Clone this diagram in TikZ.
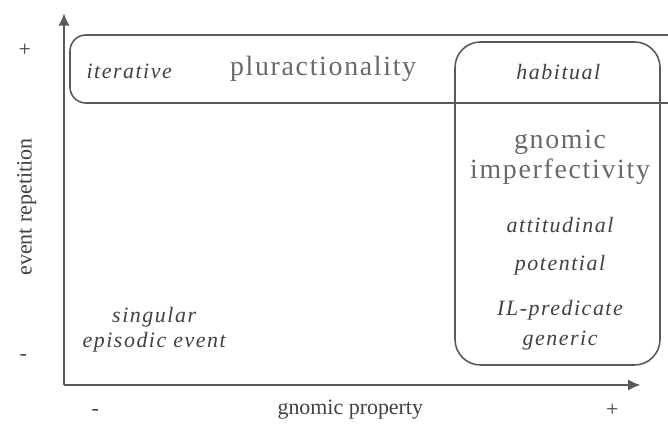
\documentclass[tikz,border=0pt]{standalone}
\usepackage{fontspec}
\setmainfont{Liberation Serif}
\usetikzlibrary{arrows.meta}
\definecolor{axisgray}{RGB}{90,90,90}
\definecolor{textgray}{RGB}{105,105,105}
\definecolor{kindgray}{RGB}{65,65,65}
\begin{document}
\begin{tikzpicture}[
  region/.style={draw=axisgray, line width=0.8pt},
  big/.style={text=textgray, font=\fontsize{14}{15}\selectfont\addfontfeature{LetterSpace=6}, align=center},
  kind/.style={text=kindgray, font=\fontsize{11}{14}\selectfont\itshape\addfontfeature{LetterSpace=7}, align=center},
  tick/.style={text=kindgray, font=\fontsize{11}{13}\selectfont}]

% picture frame
\useasboundingbox (-1.129,-0.741) rectangle (10.654,6.791);
\clip (-1.129,-0.741) rectangle (10.654,6.791);

% axes
\coordinate (origin) at (0,0);
\coordinate (ytop) at (0,6.56);
\coordinate (xend) at (10.17,0);
\draw[-{Latex[length=2.2mm,width=2mm]}, line width=1.3pt, axisgray] (origin) -- (ytop);
\draw[-{Latex[length=2.2mm,width=2mm]}, line width=1.3pt, axisgray] (origin) -- (xend);

% axis labels and ticks
\node[tick] at (-0.69, 5.90) (yplus) {+};
\node[tick] at (-0.72, 0.49) (yminus) {-};
\node[tick] at ( 0.55,-0.48) (xminus) {-};
\node[tick] at ( 9.67,-0.44) (xplus) {+};
\node[tick, rotate=90] at (-0.66, 3.14) (ylabel) {event repetition};
\node[tick] at ( 5.05,-0.44) (xlabel) {gnomic property};

% pluractionality band
\draw[region, rounded corners=0.28cm] (0.106,4.974) rectangle (11.3,6.174);
\node[kind] at (1.15, 5.53) (iter) {iterative};
\node[big] at (4.57, 5.58) (plural) {pluractionality};

% gnomic imperfectivity column
\draw[region, rounded corners=0.45cm] (6.897,0.353) rectangle (10.513,6.051);
\node[kind] at (8.72, 5.52) (habit) {habitual};
\node[big] at (8.75, 4.01) (gnomic) {gnomic\\imperfectivity};
\node[kind] at (8.75, 2.82) (attit) {attitudinal};
\node[kind] at (8.75, 2.12) (poten) {potential};
\node[kind, font=\fontsize{11}{15}\selectfont\itshape\addfontfeature{LetterSpace=7}] at (8.75, 1.06) (ilpred) {IL-predicate\\generic};

% singular episodic event
\node[kind, font=\fontsize{11}{12.5}\selectfont\itshape\addfontfeature{LetterSpace=7}] at (1.59, 0.97) (single) {singular\\episodic event};

\end{tikzpicture}
\end{document}
